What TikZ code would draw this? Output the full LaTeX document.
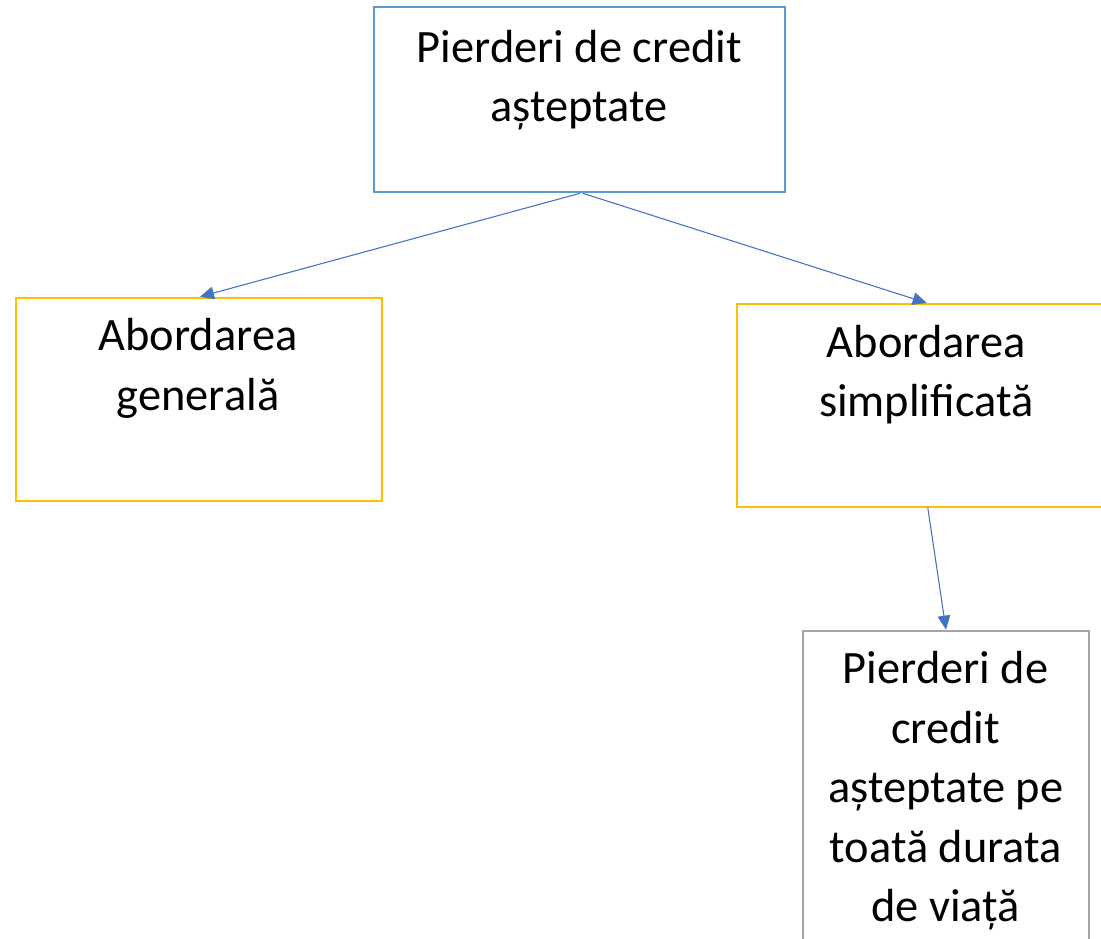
\documentclass[tikz,border=0pt]{standalone}
\usepackage{fontspec}
\setmainfont{Carlito}
\usetikzlibrary{arrows.meta}
\definecolor{boxblue}{HTML}{5B9BD5}
\definecolor{boxgold}{HTML}{FFC000}
\definecolor{boxgray}{HTML}{A5A5A5}
\definecolor{arrowblue}{HTML}{4472C4}
\tikzset{
  box/.style={draw, line width=1.5pt, fill=none, inner sep=0pt, rectangle},
  lbl/.style={anchor=base, align=center, inner sep=0pt, text=black,
    font=\fontsize{34.8pt}{44.6pt}\selectfont},
  conn/.style={draw=arrowblue, line width=0.8pt,
    -{Triangle[length=10.5pt,width=9.5pt,fill=arrowblue]}}
}
\begin{document}
\begin{tikzpicture}[x=0.75pt,y=-0.75pt]
\useasboundingbox (0,0) rectangle (1101,939);
\clip (0,0) rectangle (1101,939);
\fill[white] (0,0) rectangle (1101,939);
% boxes
\node[box, draw=boxblue, minimum width=308.25pt, minimum height=138.75pt] (top) at (579.5,99.8) {};
\node[box, draw=boxgold, minimum width=274.7pt, minimum height=152.25pt] (left) at (199.2,399.2) {};
\node[box, draw=boxgold, minimum width=283.7pt, minimum height=152pt] (right) at (925.9,405.3) {};
\node[box, draw=boxgray, minimum width=215pt, minimum height=277pt] (bot) at (946,815.3) {};
% texts (anchor base = baseline of last line)
\node[lbl] (topt) at (579.3,121.7) {Pierderi de credit\\așteptate};
\node[lbl] (leftt) at (198,410) {Abordarea\\generală};
\node[lbl] (rightt) at (926.2,416.7) {Abordarea\\simplificată};
\node[lbl] (bott) at (945.7,921.7) {Pierderi de\\credit\\așteptate pe\\toată durata\\de viață};
% connectors
\draw[conn] ([xshift=0.4pt]top.south) -- ([xshift=0.6pt]left.north);
\draw[conn] ([xshift=2.5pt]top.south) -- ([xshift=0.6pt]right.north);
\draw[conn] ([xshift=1.4pt]right.south) -- (bot.north);
\end{tikzpicture}
\end{document}
